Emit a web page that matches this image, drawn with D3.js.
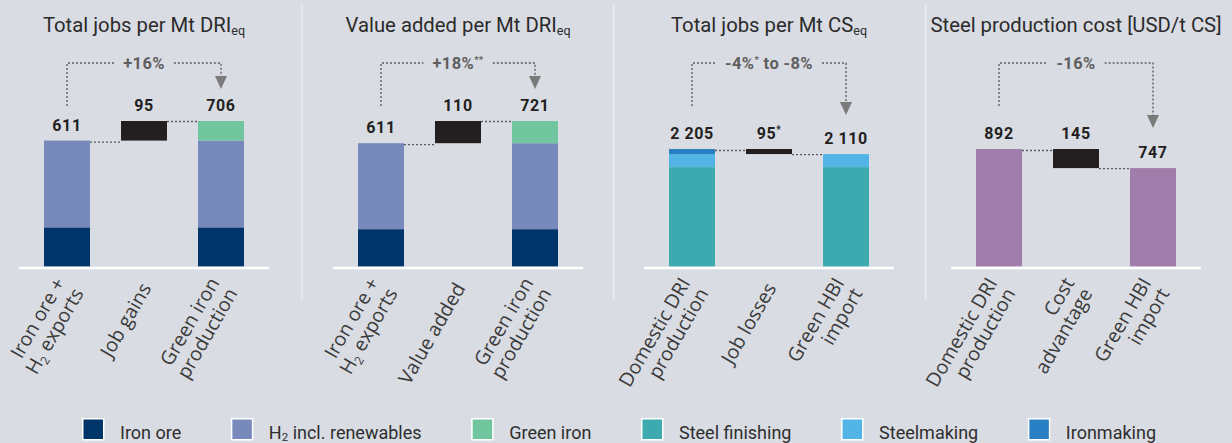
<!DOCTYPE html>
<html>
<head>
<meta charset="utf-8">
<script src="https://cdn.jsdelivr.net/npm/d3@7"></script>
<style>
  html, body { margin: 0; padding: 0; background: #d9dce3; }
  svg { display: block; }
</style>
</head>
<body>
<svg id="chart" width="1232" height="443"></svg>
<script>
// ---------------- DATA ----------------
// Legend series
const seriesNames = ["Iron ore", "H_{2} incl. renewables", "Green iron", "Steel finishing", "Steelmaking", "Ironmaking"];
const seriesColors = ["#00356a", "#788abb", "#72c69f", "#3daaaf", "#53b5e6", "#2a80c5"];
const costColor = "#a17dac";
const changeColor = "#231f20";

// Panel titles
const panelTitles = ["Total jobs per Mt DRI_{eq}", "Value added per Mt DRI_{eq}", "Total jobs per Mt CS_{eq}", "Steel production cost [USD/t CS]"];

// Panel 1: total jobs per Mt DRIeq
const jobsDriCategories = [["Iron ore +", "H_{2} exports"], ["Job gains"], ["Green iron", "production"]];
const jobsDriSeries = [0, 1, 2];
const jobsDriStart = [190, 421];          // Iron ore, H2
const jobsDriEnd = [190, 421, 95];        // Iron ore, H2, Green iron
const jobsDriLabels = ["611", "95", "706"];
const jobsDriChange = "+16%";

// Panel 2: value added per Mt DRIeq
const valueDriCategories = [["Iron ore +", "H_{2} exports"], ["Value added"], ["Green iron", "production"]];
const valueDriSeries = [0, 1, 2];
const valueDriStart = [185, 426];
const valueDriEnd = [185, 426, 110];
const valueDriLabels = ["611", "110", "721"];
const valueDriChange = "+18%^{**}";

// Panel 3: total jobs per Mt CSeq
const jobsCsCategories = [["Domestic DRI", "production"], ["Job losses"], ["Green HBI", "import"]];
const jobsCsSeries = [3, 4, 5];
const jobsCsStart = [1865, 245, 95];      // Steel finishing, Steelmaking, Ironmaking
const jobsCsEnd = [1865, 245];
const jobsCsLabels = ["2 205", "95^{*}", "2 110"];
const jobsCsChange = "-4%^{*} to -8%";

// Panel 4: steel production cost
const costCategories = [["Domestic DRI", "production"], ["Cost", "advantage"], ["Green HBI", "import"]];
const costStart = [892];
const costEnd = [747];
const costLabels = ["892", "145", "747"];
const costChange = "-16%";

// ---------------- LAYOUT ----------------
const W = 1232, H = 443;
const panelCenters = [144, 458, 769, 1076];
const panelPlotTop = [121, 121, 149, 149];
const arrowGap = [32, 32, 39, 40];
const separatorsX = [302, 613.5, 925.5];
const baseY = 266.5;
const titleRightLimit = 1228;

const panels = [
  { cats: jobsDriCategories, start: jobsDriStart.map((v, i) => ({v, c: seriesColors[jobsDriSeries[i]]})),
    end: jobsDriEnd.map((v, i) => ({v, c: seriesColors[jobsDriSeries[i]]})), labels: jobsDriLabels, change: jobsDriChange },
  { cats: valueDriCategories, start: valueDriStart.map((v, i) => ({v, c: seriesColors[valueDriSeries[i]]})),
    end: valueDriEnd.map((v, i) => ({v, c: seriesColors[valueDriSeries[i]]})), labels: valueDriLabels, change: valueDriChange },
  { cats: jobsCsCategories, start: jobsCsStart.map((v, i) => ({v, c: seriesColors[jobsCsSeries[i]]})),
    end: jobsCsEnd.map((v, i) => ({v, c: seriesColors[jobsCsSeries[i]]})), labels: jobsCsLabels, change: jobsCsChange },
  { cats: costCategories, start: costStart.map(v => ({v, c: costColor})),
    end: costEnd.map(v => ({v, c: costColor})), labels: costLabels, change: costChange }
];

// rich text helper: _{sub} and ^{sup}
function rich(sel, str, small, subDy, supDy) {
  const re = /(_|\^)\{([^}]*)\}/g;
  const tokens = [];
  let last = 0, m;
  while ((m = re.exec(str))) {
    if (m.index > last) tokens.push({t: "n", s: str.slice(last, m.index)});
    tokens.push({t: m[1] === "_" ? "sub" : "sup", s: m[2]});
    last = re.lastIndex;
  }
  if (last < str.length) tokens.push({t: "n", s: str.slice(last)});
  let cur = 0;
  tokens.forEach(tok => {
    const target = tok.t === "sub" ? subDy : tok.t === "sup" ? supDy : 0;
    const ts = sel.append("tspan").text(tok.s);
    if (target !== cur) ts.attr("dy", target - cur);
    if (tok.t !== "n") ts.attr("font-size", small);
    cur = target;
  });
  return sel;
}

const svg = d3.select("#chart");
svg.append("rect").attr("width", W).attr("height", H).attr("fill", "#d9dce3");

// separators
svg.selectAll("line.sep").data(separatorsX).join("line")
  .attr("class", "sep")
  .attr("x1", d => d).attr("x2", d => d)
  .attr("y1", 5).attr("y2", 299)
  .attr("stroke", "#e6e8ec").attr("stroke-width", 2);

const valueFont = "Roboto, 'DejaVu Sans', sans-serif";

panels.forEach((p, i) => {
  const cx = panelCenters[i];
  const g = svg.append("g");
  const startTotal = d3.sum(p.start, d => d.v);
  const endTotal = d3.sum(p.end, d => d.v);
  const maxTotal = Math.max(startTotal, endTotal);

  const x = d3.scaleBand().domain([0, 1, 2])
    .range([cx - 125, cx + 125]).paddingInner(0.4026).paddingOuter(0.3247);
  const y = d3.scaleLinear().domain([0, maxTotal]).range([baseY, panelPlotTop[i]]);
  const bw = x.bandwidth();

  // title
  const tt = g.append("text")
    .attr("x", cx).attr("y", 31.7)
    .attr("text-anchor", "middle")
    .attr("font-family", "Roboto, sans-serif").attr("font-size", 20.3)
    .attr("fill", "#2b2b2b");
  rich(tt, panelTitles[i], 12.5, 3, -7);
  const tw = tt.node().getComputedTextLength();
  if (cx + tw / 2 > titleRightLimit) tt.attr("x", titleRightLimit - tw / 2);

  // stacked bars
  function stackBar(segs, idx) {
    const ends = d3.cumsum(segs, d => d.v);
    g.selectAll(null).data(segs.map((d, k) => ({...d, y1: ends[k] - d.v, y2: ends[k]}))).join("rect")
      .attr("x", x(idx)).attr("width", bw)
      .attr("y", d => y(d.y2)).attr("height", d => y(d.y1) - y(d.y2))
      .attr("fill", d => d.c);
  }
  stackBar(p.start, 0);
  stackBar(p.end, 2);

  // change bar
  const hi = Math.max(startTotal, endTotal), lo = Math.min(startTotal, endTotal);
  g.append("rect")
    .attr("x", x(1)).attr("width", bw)
    .attr("y", y(hi)).attr("height", y(lo) - y(hi))
    .attr("fill", changeColor);

  // connectors
  const dotted = sel => sel.attr("stroke", "#5a5a5a").attr("stroke-width", 1.3)
    .attr("stroke-dasharray", "2,2").attr("fill", "none");
  g.append("line").attr("x1", x(0) + bw).attr("x2", x(1))
    .attr("y1", y(startTotal) + 1.5).attr("y2", y(startTotal) + 1.5).call(dotted);
  g.append("line").attr("x1", x(1) + bw).attr("x2", x(2))
    .attr("y1", y(endTotal) + 0.5).attr("y2", y(endTotal) + 0.5).call(dotted);

  // baseline
  g.append("line").attr("x1", cx - 125).attr("x2", cx + 125)
    .attr("y1", 268).attr("y2", 268)
    .attr("stroke", "#ffffff").attr("stroke-width", 2.4);

  // value labels
  const tops = [y(startTotal), y(hi), y(endTotal)];
  p.labels.forEach((lab, k) => {
    const t = g.append("text")
      .attr("x", x(k) + bw / 2).attr("y", tops[k] - 10)
      .attr("text-anchor", "middle")
      .attr("font-family", valueFont).attr("font-weight", 700)
      .attr("font-size", 16).attr("letter-spacing", 0.6)
      .attr("fill", "#231f20");
    rich(t, lab, 10, 3, -6);
  });

  // bracket with change label
  const xL = x(0) + bw / 2, xR = x(2) + bw / 2;
  const ct = g.append("text")
    .attr("x", (xL + xR) / 2).attr("y", 68.5)
    .attr("text-anchor", "middle")
    .attr("font-family", valueFont).attr("font-weight", 700)
    .attr("font-size", 16.5).attr("letter-spacing", 0.4)
    .attr("fill", "#5f5f5f");
  rich(ct, p.change, 9.5, 3, -6);
  const bb = ct.node().getBBox();
  const tip = y(endTotal) - arrowGap[i];
  const arrowTop = tip - 13;
  g.append("path")
    .attr("d", `M${xL},106V63H${bb.x - 9}M${bb.x + bb.width + 9},63H${xR}V${arrowTop}`)
    .call(dotted);
  g.append("path")
    .attr("d", `M${xR - 6},${arrowTop}L${xR + 6},${arrowTop}L${xR},${tip}Z`)
    .attr("fill", "#7a7a7a");

  // category labels (rotated)
  p.cats.forEach((lines, k) => {
    const lg = g.append("g")
      .attr("transform", `translate(${x(k) + bw / 2 + 8},288) rotate(-60)`);
    lines.forEach((ln, j) => {
      const t = lg.append("text")
        .attr("x", 0).attr("y", (j - (lines.length - 1) / 2) * 21)
        .attr("text-anchor", "end")
        .attr("font-family", "'Open Sans', 'Noto Sans', sans-serif").attr("font-size", 19.5)
        .attr("fill", "#3a3a3a");
      rich(t, ln, 12, 4, -6);
    });
  });
});

// legend
const legendG = svg.append("g");
const items = seriesNames.map((name, i) => {
  const ig = legendG.append("g");
  ig.append("rect").attr("x", 0.75).attr("y", 418.75).attr("width", 21).attr("height", 21)
    .attr("fill", seriesColors[i]).attr("stroke", "#ffffff").attr("stroke-width", 1.5);
  const t = ig.append("text").attr("x", 38).attr("y", 438.5)
    .attr("font-family", "Roboto, sans-serif").attr("font-size", 18)
    .attr("fill", "#2e2e2e");
  rich(t, name, 11.5, 2.5, -6);
  return {g: ig, w: 38 + t.node().getComputedTextLength()};
});
const legendLeft = 82, legendRight = 1156;
const sumW = d3.sum(items, d => d.w);
const gap = (legendRight - legendLeft - sumW) / (items.length - 1);
let lx = legendLeft;
items.forEach(it => { it.g.attr("transform", `translate(${lx},0)`); lx += it.w + gap; });
</script>
</body>
</html>
